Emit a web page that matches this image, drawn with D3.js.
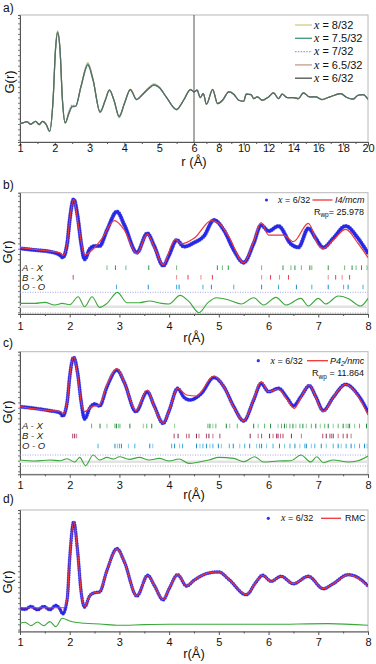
<!DOCTYPE html>
<html><head><meta charset="utf-8">
<script src="https://cdn.jsdelivr.net/npm/d3@7"></script>
<style>body{margin:0;background:#fff}svg{display:block}</style>
</head><body>
<svg id="chart" width="376" height="664"></svg>
<script>
// ---------------- DATA ----------------
// Panel a: G(r) for five compositions, r from 1 to 20 Å (arbitrary units)
const rA = [1.0,1.1,1.2,1.3,1.45,1.55,1.65,1.75,1.85,1.95,2.02,2.08,2.15,2.22,2.3,2.4,2.5,2.6,2.75,2.95,3.1,3.3,3.45,3.57,3.7,3.85,4.0,4.17,4.35,4.5,4.7,4.85,5.0,5.2,5.5,5.7,5.9,6.0,6.25,6.5,6.75,7.0,7.5,7.9,8.3,8.8,9.2,9.6,10.0,10.2,10.6,10.8,11.1,11.5,12.0,12.4,12.8,13.1,13.5,14.0,14.4,14.8,15.3,15.8,16.3,16.8,17.3,17.8,18.3,18.8,19.2,19.6,20.0];
const gA_8   = [0.00,0.03,0.06,-0.02,0.07,-0.03,0.07,-0.02,-0.25,0.70,2.25,2.78,2.25,0.70,0.02,0.27,0.52,0.52,1.12,1.83,1.33,0.32,0.70,1.02,0.70,0.17,0.60,1.03,0.72,0.86,1.08,1.20,1.10,0.80,0.41,0.70,1.03,0.95,1.00,0.78,0.90,0.58,1.03,0.60,0.70,0.95,0.88,0.70,0.67,0.88,0.87,0.75,0.80,0.70,0.80,0.92,0.75,0.88,0.78,0.78,0.75,0.92,0.80,0.80,0.72,0.78,0.85,0.90,0.78,0.73,0.85,0.87,0.73];
const gA_75  = [0.00,0.03,0.06,-0.02,0.07,-0.03,0.07,-0.02,-0.23,0.70,2.22,2.74,2.22,0.70,0.02,0.29,0.50,0.52,1.10,1.78,1.31,0.34,0.70,1.01,0.70,0.20,0.60,1.02,0.72,0.85,1.06,1.17,1.09,0.80,0.42,0.70,1.02,0.95,1.00,0.78,0.90,0.58,1.02,0.60,0.70,0.95,0.88,0.70,0.67,0.88,0.87,0.75,0.80,0.70,0.80,0.92,0.75,0.88,0.78,0.78,0.75,0.92,0.80,0.80,0.72,0.78,0.85,0.90,0.78,0.73,0.85,0.87,0.73];
const gA_7   = [0.00,0.03,0.06,-0.02,0.07,-0.03,0.07,-0.02,-0.22,0.70,2.20,2.72,2.20,0.70,0.03,0.35,0.56,0.53,1.08,1.72,1.28,0.38,0.70,0.99,0.70,0.23,0.60,1.01,0.72,0.85,1.05,1.14,1.07,0.80,0.43,0.70,1.01,0.95,1.00,0.78,0.90,0.58,1.01,0.60,0.70,0.95,0.88,0.70,0.67,0.88,0.87,0.75,0.80,0.70,0.80,0.92,0.75,0.88,0.78,0.78,0.75,0.92,0.80,0.80,0.72,0.78,0.85,0.90,0.78,0.73,0.85,0.87,0.73];
const gA_65  = [0.00,0.03,0.06,-0.02,0.07,-0.03,0.07,-0.02,-0.22,0.70,2.22,2.75,2.22,0.70,0.02,0.30,0.52,0.52,1.10,1.80,1.31,0.35,0.70,1.00,0.70,0.20,0.60,1.02,0.72,0.85,1.05,1.16,1.08,0.80,0.42,0.70,1.02,0.95,1.00,0.78,0.90,0.58,1.02,0.60,0.70,0.95,0.88,0.70,0.67,0.88,0.87,0.75,0.80,0.70,0.80,0.92,0.75,0.88,0.78,0.78,0.75,0.92,0.80,0.80,0.72,0.78,0.85,0.90,0.78,0.73,0.85,0.87,0.73];
const gA_6   = [0.00,0.03,0.06,-0.02,0.07,-0.03,0.07,-0.02,-0.22,0.70,2.20,2.70,2.20,0.70,0.02,0.30,0.52,0.52,1.10,1.75,1.30,0.35,0.70,1.00,0.70,0.22,0.60,1.02,0.72,0.85,1.05,1.15,1.08,0.80,0.42,0.70,1.02,0.95,1.00,0.78,0.90,0.58,1.02,0.60,0.70,0.95,0.88,0.70,0.67,0.88,0.87,0.75,0.80,0.70,0.80,0.92,0.75,0.88,0.78,0.78,0.75,0.92,0.80,0.80,0.72,0.78,0.85,0.90,0.78,0.73,0.85,0.87,0.73];
const labelsA = ["8/32","7.5/32","7/32","6.5/32","6/32"];
const ticksA = [1,2,3,4,5,6,8,10,12,14,16,18,20];
const minorA = [1.5,2.5,3.5,4.5,5.5,7,9,11,13,15,17,19];
const ticksR = [1,2,3,4,5,6,7,8];
const minorR = [1.5,2.5,3.5,4.5,5.5,6.5,7.5];

// Panel b: x = 6/32 data, I4/mcm fit, difference
const obsB = [[1.0,0],[1.3,-0.17],[1.6,-0.33],[1.8,-0.67],[1.86,-0.9],[1.95,0.5],[2.0,2.83],[2.08,4.9],[2.16,3.17],[2.23,0.5],[2.3,-1.1],[2.4,-0.1],[2.5,0.23],[2.6,0.23],[2.75,1.83],[2.95,3.67],[3.1,2.33],[3.35,-0.43],[3.56,1.5],[3.7,0.23],[3.88,-1.73],[4.0,-0.67],[4.15,0.83],[4.3,0.17],[4.5,0.57],[4.7,1.23],[4.9,2.83],[5.1,1.83],[5.3,-0.17],[5.5,-1.43],[5.7,0.5],[5.85,2.33],[6.0,1.73],[6.2,2.23],[6.45,0.43],[6.6,0.1],[6.8,2.0],[6.95,1.0],[7.1,0.07],[7.3,1.0],[7.55,2.23],[7.8,1.0],[8.0,-0.5]];
const fitB = [[1.0,0.07],[1.5,-0.23],[1.8,-0.43],[1.87,-0.7],[1.95,0.5],[2.0,2.83],[2.08,4.9],[2.18,2.17],[2.3,-0.67],[2.45,-0.17],[2.65,1.0],[2.9,2.77],[3.1,1.83],[3.35,-0.5],[3.56,1.43],[3.72,-0.1],[3.88,-1.67],[4.05,0.33],[4.12,0.9],[4.25,0.45],[4.5,1.0],[4.85,2.77],[5.0,2.5],[5.2,1.17],[5.5,-1.43],[5.7,0.67],[5.85,2.57],[6.0,1.33],[6.3,1.33],[6.5,0.67],[6.8,2.5],[7.0,0.33],[7.1,0],[7.3,0.83],[7.55,1.9],[7.8,0.5],[8.0,-0.93]];
const diffB = [[1.0,0.33],[1.3,0.33],[1.5,0.43],[1.7,0.17],[1.85,0.33],[2.0,0.2],[2.17,1.0],[2.3,0],[2.45,1.0],[2.6,-0.07],[2.75,0.33],[2.96,1.43],[3.15,0.4],[3.4,0.4],[3.6,0.57],[3.85,0.33],[4.0,0.27],[4.22,1.13],[4.4,0.5],[4.6,-0.6],[4.78,0.4],[4.95,0.9],[5.2,0.67],[5.45,0.27],[5.7,0.9],[5.9,0.17],[6.15,0.93],[6.35,0.17],[6.65,0.83],[6.8,0.07],[7.0,0.83],[7.15,0.27],[7.4,1.07],[7.6,0.83],[7.85,0.07],[8.0,0.83]];
const axB = [2.75,2.92,3.13,3.59,4.15,4.97,5.07,5.19,5.86,6.29,6.45,6.53,6.66,6.83,6.87,7.2,7.53,7.68,7.76,7.87,7.98];
const bxB = [2.07,4.15,4.38,4.64,4.87,5.86,6.04,6.22,6.4,7.2,7.35,7.48,7.63];
const ooB = [2.94,3.58,4.15,4.2,4.68,4.85,5.3,5.86,6.2,6.56,6.87,7.2,7.51,7.6,7.9];

// Panel c: x = 6/32 data, P4_2/nmc fit, difference
const obsC = [[1.0,0],[1.3,-0.17],[1.6,-0.4],[1.8,-0.6],[1.86,-0.93],[1.95,0.5],[2.0,3.0],[2.08,4.93],[2.16,3.33],[2.23,0.5],[2.3,-1.23],[2.4,-0.17],[2.5,0.27],[2.6,0.07],[2.75,2.0],[2.95,3.67],[3.1,2.4],[3.33,-0.5],[3.56,1.5],[3.7,0.07],[3.88,-1.67],[4.0,-0.4],[4.17,1.83],[4.3,0.93],[4.42,0.67],[4.65,1.33],[4.9,2.93],[5.1,2.0],[5.3,0],[5.5,-1.43],[5.7,0.67],[5.85,2.33],[6.0,1.5],[6.2,1.83],[6.38,0.83],[6.5,0.07],[6.65,1.0],[6.82,2.1],[6.95,1.0],[7.1,-0.4],[7.3,0.93],[7.55,2.23],[7.8,1.17],[8.0,-0.5]];
const fitC = [[1.0,0],[1.3,-0.23],[1.6,-0.4],[1.82,-0.5],[1.87,-0.73],[1.95,0.5],[2.0,3.0],[2.08,5.0],[2.16,3.17],[2.23,0.5],[2.3,-0.5],[2.45,0],[2.6,0.17],[2.75,2.17],[2.95,3.8],[3.1,2.4],[3.33,-0.4],[3.56,1.67],[3.7,0],[3.88,-1.67],[4.0,-0.4],[4.17,1.83],[4.35,1.17],[4.55,1.07],[4.9,3.07],[5.1,2.0],[5.3,-0.07],[5.5,-1.43],[5.7,0.73],[5.85,2.5],[6.0,1.5],[6.2,1.77],[6.38,0.67],[6.52,-0.17],[6.65,0.93],[6.82,2.17],[6.95,0.93],[7.1,-0.5],[7.3,0.93],[7.55,2.23],[7.8,1.07],[8.0,-0.83]];
const diffC = [[1.0,0.17],[1.3,0.07],[1.6,0.17],[1.8,0.1],[1.95,0.3],[2.1,-0.03],[2.2,0.43],[2.32,-0.4],[2.47,0.67],[2.6,0.17],[2.75,0.43],[2.88,0.27],[3.0,0.5],[3.2,0.23],[3.4,0.43],[3.6,0.17],[3.8,0.33],[4.0,0.07],[4.2,0.27],[4.4,-0.17],[4.6,-0.03],[4.8,0.17],[5.0,0.43],[5.3,0.33],[5.5,0],[5.72,0.5],[5.9,-0.03],[6.2,0.07],[6.45,0.1],[6.65,0.67],[6.85,-0.03],[6.97,0.5],[7.1,-0.1],[7.3,0.17],[7.6,-0.03],[7.8,0.1],[8.0,0.57]];
const axC = [2.44,2.61,2.75,2.91,2.94,2.98,3.01,3.21,3.48,3.55,3.65,4.11,4.78,4.82,4.88,4.94,5.15,5.22,5.37,5.7,5.79,5.92,6.04,6.19,6.26,6.32,6.36,6.43,6.49,6.55,6.63,6.69,6.76,6.86,6.95,7.04,7.13,7.2,7.3,7.4,7.5,7.56,7.6,7.63,7.73,7.83,7.97];
const bxC = [2.06,2.1,2.14,4.1,4.18,4.35,4.4,4.55,4.6,4.75,4.8,4.88,5.02,5.63,5.79,5.86,6.02,6.09,6.16,6.19,6.24,6.29,6.46,6.66,7.09,7.16,7.23,7.26,7.3,7.4,7.5,7.58,7.66];
const ooC = [2.57,2.91,2.96,3.0,3.04,3.18,3.31,3.61,3.67,4.05,4.11,4.21,4.27,4.55,4.62,4.68,4.75,4.82,4.88,4.99,5.05,5.21,5.29,5.42,5.52,5.62,5.76,5.82,5.86,5.96,6.09,6.22,6.32,6.43,6.53,6.63,6.73,6.76,6.86,6.93,7.06,7.16,7.3,7.4,7.46,7.56,7.66,7.73,7.83,7.93,7.98];

// Panel d: x = 6/32 data, RMC fit, difference
const obsD = [[1.0,0],[1.1,-0.13],[1.22,0.17],[1.35,-0.17],[1.48,0.17],[1.6,-0.17],[1.72,0.27],[1.8,-0.07],[1.86,-0.57],[1.95,0.93],[2.0,4.93],[2.08,8.6],[2.16,5.6],[2.23,1.6],[2.3,0.1],[2.4,1.2],[2.5,1.53],[2.6,1.6],[2.75,3.77],[2.95,5.93],[3.1,4.6],[3.35,1.2],[3.57,3.27],[3.7,2.27],[3.88,0.83],[4.0,1.93],[4.17,3.33],[4.35,2.2],[4.5,2.77],[4.8,3.5],[5.0,3.6],[5.2,2.87],[5.55,1.33],[5.75,2.6],[5.88,3.27],[6.05,2.67],[6.25,3.17],[6.5,2.43],[6.8,3.17],[7.1,1.93],[7.3,2.43],[7.6,3.33],[7.85,2.87],[8.0,2.2]];
const fitD = [[1.0,0.03],[1.89,0.03],[1.95,1.0],[2.0,4.93],[2.08,8.6],[2.16,5.6],[2.23,1.6],[2.3,0.15],[2.4,1.2],[2.5,1.53],[2.6,1.6],[2.75,3.77],[2.95,5.9],[3.1,4.6],[3.35,1.2],[3.57,3.27],[3.7,2.27],[3.88,0.83],[4.0,1.93],[4.17,3.33],[4.35,2.2],[4.5,2.77],[4.8,3.5],[5.0,3.6],[5.2,2.87],[5.55,1.33],[5.75,2.6],[5.88,3.27],[6.05,2.67],[6.25,3.17],[6.5,2.43],[6.8,3.17],[7.1,1.93],[7.3,2.43],[7.6,3.3],[7.85,2.83],[8.0,2.15]];
const diffD = [[1.0,0.1],[1.1,0.2],[1.22,-0.13],[1.35,0.23],[1.48,-0.13],[1.6,0.27],[1.72,-0.23],[1.85,0.6],[2.0,0.33],[2.3,0.1],[2.6,0.03],[3.0,-0.1],[3.5,-0.03],[4.0,0],[5.0,0],[6.0,0],[7.2,0.07],[8.0,-0.1]];

const rowLabels = ["A - X","B - X","O - O"];

// ---------------- DRAWING ----------------
const svg = d3.select("#chart");
const FONT = '"Liberation Sans", Arial, Helvetica, sans-serif';
const SERIF = '"Liberation Serif", "Times New Roman", serif';
const X0 = 20, X1 = 368;
const AX = "#555";
let clipId = 0;

function makePanel(o) {
  const g = svg.append("g");
  const y = d3.scaleLinear().domain(o.yDomain).range([o.bottom, o.top]);
  const x = o.x;
  const id = "clip" + (clipId++);
  svg.append("clipPath").attr("id", id).append("rect")
    .attr("x", X0).attr("y", o.top).attr("width", X1 - X0).attr("height", o.bottom - o.top);
  g.append("rect").attr("x", X0).attr("y", o.top).attr("width", X1 - X0).attr("height", o.bottom - o.top)
    .attr("fill", "none").attr("stroke", "#b8b8b8").attr("stroke-width", 1);
  const yt = d3.range(o.top + 3, o.bottom - 1, 5.3).map(v => y.invert(v));
  const la = g.append("g").attr("transform", `translate(${X0},0)`)
    .call(d3.axisLeft(y).tickValues(yt).tickSize(2).tickFormat(""));
  la.select(".domain").attr("stroke", AX);
  la.selectAll(".tick line").attr("stroke", "#777");
  const mb = g.append("g").attr("transform", `translate(0,${o.bottom})`)
    .call(d3.axisBottom(x).tickValues(o.minor).tickSize(2).tickFormat(""));
  mb.select(".domain").remove();
  mb.selectAll(".tick line").attr("stroke", AX);
  const ba = g.append("g").attr("transform", `translate(0,${o.bottom})`)
    .call(d3.axisBottom(x).tickValues(o.major).tickSize(3.5).tickFormat(d3.format("d")));
  ba.select(".domain").attr("stroke", AX);
  ba.selectAll(".tick line").attr("stroke", AX);
  ba.selectAll(".tick text").attr("font-family", FONT).attr("font-size", 11).attr("fill", "#111")
    .attr("dy", null).attr("y", o.tickBase - o.bottom);
  svg.append("text").attr("x", 194).attr("y", o.titleBase).attr("text-anchor", "middle")
    .attr("font-family", FONT).attr("font-size", 13).attr("fill", "#111").text(o.xTitle);
  svg.append("text").attr("transform", `translate(${o.gx},${o.gy}) rotate(-90)`).attr("text-anchor", "middle")
    .attr("dy", "0.35em").attr("font-family", FONT).attr("font-size", 13).attr("fill", "#111").text("G(r)");
  svg.append("text").attr("x", 3).attr("y", o.labelBase).attr("font-family", FONT).attr("font-size", 12)
    .attr("fill", "#111").text(o.label);
  const plot = g.append("g").attr("clip-path", `url(#${id})`);
  return {g, plot, x, y};
}

const line = (x, y) => d3.line().x(d => x(d[0])).y(d => y(d[1])).curve(d3.curveMonotoneX);

// ----- Panel a -----
(function(){
  const x = d3.scaleLinear().domain([1, 6, 20]).range([X0, 194, X1]);
  const P = makePanel({x, yDomain: [-0.55, 3.25], top: 15, bottom: 142, major: ticksA, minor: minorA,
    tickBase: 151.5, titleBase: 166, xTitle: "r (Å)", gx: 9, gy: 82, label: "a)", labelBase: 11.5});
  const all = [gA_8, gA_75, gA_7, gA_65, gA_6];
  const colors = ["#d4d28c", "#4f9a7c", "#78b2e6", "#c9a391", "#5b5b5b"];
  const dash = [null, null, "1.6,1.2", null, null];
  const order = [0, 2, 3, 1, 4];
  order.forEach(i => {
    const pts = rA.map((r, k) => [r, all[i][k]]);
    P.plot.append("path").attr("d", line(x, P.y)(pts)).attr("fill", "none")
      .attr("stroke", colors[i]).attr("stroke-width", 1.2).attr("stroke-dasharray", dash[i])
      .attr("stroke-opacity", i === 4 ? 0.75 : 1);
  });
  P.g.append("line").attr("x1", x(6)).attr("x2", x(6)).attr("y1", 15).attr("y2", 142)
    .attr("stroke", "#555").attr("stroke-width", 1);
  labelsA.forEach((lab, i) => {
    const yy = 25 + i * 13.3;
    svg.append("line").attr("x1", 295).attr("x2", 312).attr("y1", yy).attr("y2", yy)
      .attr("stroke", colors[i]).attr("stroke-width", 1.4).attr("stroke-dasharray", dash[i]);
    const t = svg.append("text").attr("x", 314).attr("y", yy).attr("dy", "0.35em")
      .attr("font-family", FONT).attr("font-size", 11).attr("fill", "#111");
    t.append("tspan").attr("font-family", SERIF).attr("font-style", "italic").attr("font-size", 12).text("x");
    t.append("tspan").text(" = " + lab);
  });
})();

function fitPanel(o) {
  const x = d3.scaleLinear().domain([1, 8]).range([X0, X1]);
  const P = makePanel(Object.assign({x, major: ticksR, minor: minorR, xTitle: "r(Å)", gx: 7}, o));
  const y = P.y;
  if (o.rows) {
    o.rows.forEach((rw, i) => {
      const yy = o.rowPx[i];
      P.plot.selectAll(null).data(rw.vals).enter().append("line")
        .attr("x1", d => x(d)).attr("x2", d => x(d)).attr("y1", yy - 2.3).attr("y2", yy + 2.3)
        .attr("stroke", (d, k) => rw.colors[k % rw.colors.length]).attr("stroke-width", 1);
      svg.append("text").attr("x", 22).attr("y", yy).attr("dy", "0.35em").attr("font-family", FONT)
        .attr("font-style", "italic").attr("font-size", 9.5).attr("fill", "#222").text(rowLabels[i]);
    });
  }
  if (o.band != null) {
    P.plot.append("line").attr("x1", X0).attr("x2", X1).attr("y1", o.band).attr("y2", o.band)
      .attr("stroke", "#e2e2e2").attr("stroke-width", 2.5);
  }
  if (o.dotBlue != null) {
    P.plot.append("line").attr("x1", X0).attr("x2", X1).attr("y1", o.dotBlue).attr("y2", o.dotBlue)
      .attr("stroke", "#8f8fe8").attr("stroke-width", 0.8).attr("stroke-dasharray", "1,1.5");
  }
  if (o.dotGray != null) {
    P.plot.append("line").attr("x1", X0).attr("x2", X1).attr("y1", o.dotGray).attr("y2", o.dotGray)
      .attr("stroke", "#999").attr("stroke-width", 0.8).attr("stroke-dasharray", "1,1.5");
  }
  const off = y.invert(o.diffBase);
  P.plot.append("path").attr("d", line(x, y)(o.diff.map(d => [d[0], d[1] + off]))).attr("fill", "none")
    .attr("stroke", "#3aa83a").attr("stroke-width", 1.1);
  P.plot.append("path").attr("d", line(x, y)(o.obs)).attr("fill", "none")
    .attr("stroke", "#8c8cf0").attr("stroke-width", o.dotW + 0.8).attr("stroke-linecap", "round")
    .attr("stroke-dasharray", "0 2.3");
  P.plot.append("path").attr("d", line(x, y)(o.obs)).attr("fill", "none")
    .attr("stroke", "#2727e6").attr("stroke-width", o.dotW).attr("stroke-linecap", "round")
    .attr("stroke-dasharray", "0 2.3");
  P.plot.append("path").attr("d", line(x, y)(o.fit)).attr("fill", "none")
    .attr("stroke", "#f03535").attr("stroke-width", 1.2);
  const L = o.legend;
  svg.append("circle").attr("cx", L.dot).attr("cy", L.y).attr("r", 1.6).attr("fill", "#3434e8");
  const t = svg.append("text").attr("x", L.text).attr("y", L.y).attr("dy", "0.35em")
    .attr("font-family", FONT).attr("font-size", 9).attr("fill", "#111");
  t.append("tspan").attr("font-family", SERIF).attr("font-style", "italic").attr("font-size", 10).text("x");
  t.append("tspan").text(" = 6/32");
  svg.append("line").attr("x1", L.l1).attr("x2", L.l2).attr("y1", L.y).attr("y2", L.y)
    .attr("stroke", "#f03535").attr("stroke-width", 1.3);
  const m = svg.append("text").attr("x", L.name).attr("y", L.y).attr("dy", "0.35em")
    .attr("font-family", FONT).attr("font-size", 9).attr("fill", "#111");
  L.nameParts.forEach(p => {
    const s = m.append("tspan").text(p.t).attr("font-style", p.it ? "italic" : null);
    if (p.sub) s.attr("font-size", 6.5).attr("dy", "2");
    if (p.up) s.attr("dy", "-2");
  });
  if (L.rwp) {
    const r = svg.append("text").attr("x", 364).attr("y", L.rwpY).attr("dy", "0.35em").attr("text-anchor", "end")
      .attr("font-family", FONT).attr("font-size", 9).attr("fill", "#111");
    r.append("tspan").text("R");
    r.append("tspan").attr("font-size", 6.5).attr("dy", "2.5").text("wp");
    r.append("tspan").attr("dy", "-2.5").text(L.rwp);
  }
}

fitPanel({yDomain: [-6.567, 5.567], top: 192.7, bottom: 314, tickBase: 329.5, titleBase: 341.5,
  gy: 252, label: "b)", labelBase: 189, obs: obsB, fit: fitB, diff: diffB, diffBase: 306.7, dotW: 3.6,
  band: 306.7, dotBlue: 292.3, dotGray: 313,
  rows: [{vals: axB, colors: ["#6cc07c", "#2a9a48"]}, {vals: bxB, colors: ["#e4404c", "#f08a90"]}, {vals: ooB, colors: ["#3cb2e2", "#1a90cc"]}],
  rowPx: [267.7, 277.3, 287],
  legend: {dot: 266.5, y: 200, text: 278, l1: 312.5, l2: 332.5, name: 335,
    nameParts: [{t: "I4/mcm", it: true}], rwp: "= 25.978", rwpY: 211.7}});

fitPanel({yDomain: [-6.767, 5.5], top: 351.7, bottom: 474.3, tickBase: 489.5, titleBase: 498.5,
  gy: 412, label: "c)", labelBase: 346.5, obs: obsC, fit: fitC, diff: diffC, diffBase: 461.7, dotW: 3.3,
  band: 461.7, dotBlue: 455, dotGray: 466,
  rows: [{vals: axC, colors: ["#5cb86c", "#1f8a3c", "#8fd09a"]}, {vals: bxC, colors: ["#b8446a", "#8a2a52", "#d0708c"]}, {vals: ooC, colors: ["#3cb2e2", "#1b8ec8", "#86cbe8"]}],
  rowPx: [426, 436, 446],
  legend: {dot: 258.3, y: 360.7, text: 270.5, l1: 307, l2: 328, name: 330,
    nameParts: [{t: "P4", it: true}, {t: "2", it: true, sub: true}, {t: "/nmc", it: true, up: true}], rwp: " = 11.864", rwpY: 373.3}});

fitPanel({yDomain: [-2.333, 9.767], top: 510, bottom: 631.5, tickBase: 645.5, titleBase: 658,
  gy: 582, label: "d)", labelBase: 503, obs: obsD, fit: fitD, diff: diffD, diffBase: 624.3, dotW: 3.0,
  band: null, dotBlue: null, dotGray: null, rows: null,
  legend: {dot: 268.3, y: 518.3, text: 281, l1: 321, l2: 341, name: 345,
    nameParts: [{t: "RMC", it: false}], rwp: null}});
</script>
</body></html>
